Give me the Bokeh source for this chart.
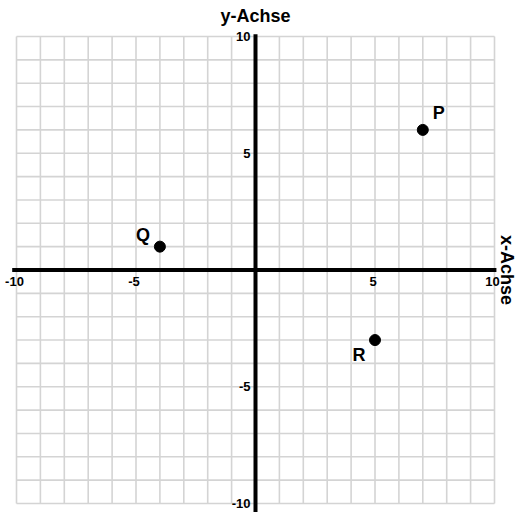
from bokeh.plotting import figure
from bokeh.models import Range1d, ColumnDataSource
from bokeh.core.properties import value
from bokeh.embed import file_html
from bokeh.resources import INLINE
import math

# ---- data ----
grid_values = list(range(-10, 11))
x_tick_values = [-10, -5, 5, 10]
x_tick_labels = ["-10", "-5", "5", "10"]
y_tick_values = [10, 5, -5, -10]
y_tick_labels = ["10", "5", "-5", "-10"]
point_names = ["P", "Q", "R"]
point_x = [7, -4, 5]
point_y = [6, 1, -3]
x_title = "x-Achse"
y_title = "y-Achse"

# ---- styles ----
W, H = 515, 512
SX, SY = 23.9, 23.35         # pixels per unit
X0_PX, Y10_PX = 16, 36       # pixel of x=-10 and y=10 inside the figure
label_dx = [16, -17, -16]
label_dy = [-17, -12, 15]
FONT = value("Liberation Sans")

x_start = -10 - X0_PX / SX
y_end = 10 + Y10_PX / SY
p = figure(width=W, height=H, output_backend="svg", toolbar_location=None,
           x_range=Range1d(x_start, x_start + W / SX),
           y_range=Range1d(y_end - H / SY, y_end),
           x_axis_type=None, y_axis_type=None, min_border=0,
           background_fill_color="white", border_fill_color="white")
p.outline_line_color = None
p.xgrid.visible = False
p.ygrid.visible = False

lo, hi = min(grid_values), max(grid_values)
# grid
p.segment(x0=grid_values, y0=[lo] * len(grid_values), x1=grid_values, y1=[hi] * len(grid_values),
          line_color="#d4d4d4", line_width=1.6)
p.segment(x0=[lo] * len(grid_values), y0=grid_values, x1=[hi] * len(grid_values), y1=grid_values,
          line_color="#d4d4d4", line_width=1.6)

# axes
p.segment(x0=[lo - 0.18], y0=[0], x1=[hi + 0.08], y1=[0], line_color="black", line_width=4)
p.segment(x0=[0], y0=[hi + 0.1], x1=[0], y1=[lo - 0.6], line_color="black", line_width=4)

# tick labels
p.text(x=x_tick_values, y=[0] * len(x_tick_values), text=x_tick_labels,
       text_font=FONT, text_font_style="bold", text_font_size="13px",
       text_align="center", text_baseline="top", x_offset=-2, y_offset=7, text_color="black")
p.text(x=[0] * len(y_tick_values), y=y_tick_values, text=y_tick_labels,
       text_font=FONT, text_font_style="bold", text_font_size="13px",
       text_align="right", text_baseline="middle", x_offset=-5, text_color="black")

# axis titles
p.text(x=[0], y=[hi], text=[y_title], text_font=FONT, text_font_style="bold",
       text_font_size="18px", text_align="center", text_baseline="middle",
       y_offset=-21, text_color="black")
p.text(x=[hi], y=[0], text=[x_title], text_font=FONT, text_font_style="bold",
       text_font_size="18px", text_align="center", text_baseline="middle",
       x_offset=12, angle=-math.pi / 2, text_color="black")

# points
src = ColumnDataSource(dict(x=point_x, y=point_y, name=point_names, dx=label_dx, dy=label_dy))
p.scatter(x="x", y="y", source=src, size=11, color="black")
p.text(x="x", y="y", text="name", source=src, x_offset="dx", y_offset="dy",
       text_font=FONT, text_font_style="bold", text_font_size="18px",
       text_align="center", text_baseline="middle", text_color="black")

open("out.html", "w").write(file_html(p, INLINE))
